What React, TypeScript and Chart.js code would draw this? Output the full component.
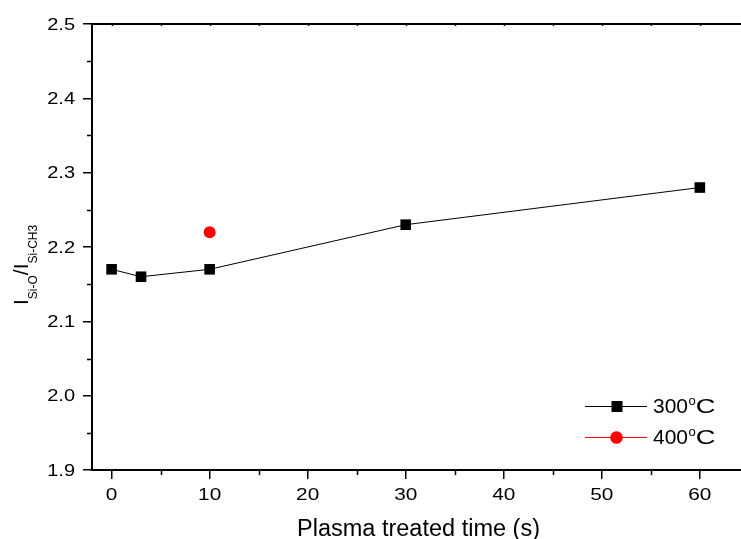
import React, { useEffect, useRef } from "react";
import { Chart, registerables } from "chart.js";

Chart.register(...registerables);

// ---- data ----
const time300 = [0, 3, 10, 30, 60];
const ratio300 = [2.17, 2.16, 2.17, 2.23, 2.28];
const time400 = [10];
const ratio400 = [2.22];
const seriesNames = ["300", "400"];

// ---- ticks ----
const xTicks = [0, 10, 20, 30, 40, 50, 60];
const xMinorTicks = [5, 15, 25, 35, 45, 55];
const yTicks = [1.9, 2.0, 2.1, 2.2, 2.3, 2.4, 2.5];
const yMinorTicks = [1.95, 2.05, 2.15, 2.25, 2.35, 2.45];

const xTitle = "Plasma treated time (s)";

const FONT = '"Liberation Sans", Arial, Helvetica, sans-serif';

function stretchedText(
  ctx: CanvasRenderingContext2D,
  text: string,
  x: number,
  y: number,
  sx: number,
  align: CanvasTextAlign
) {
  ctx.save();
  ctx.translate(x, y);
  ctx.scale(sx, 1);
  ctx.textAlign = align;
  ctx.textBaseline = "alphabetic";
  ctx.fillText(text, 0, 0);
  ctx.restore();
}

const decor = {
  id: "decor",
  afterDraw(chart: any) {
    const ctx = chart.ctx as CanvasRenderingContext2D;
    const xs = chart.scales.x;
    const ys = chart.scales.y;
    const { left, right, top, bottom } = chart.chartArea;
    ctx.save();
    ctx.strokeStyle = "#000";
    ctx.fillStyle = "#000";

    // top axis line
    ctx.lineWidth = 2;
    ctx.beginPath();
    ctx.moveTo(left - 1, top);
    ctx.lineTo(right, top);
    ctx.stroke();

    // minor ticks
    ctx.lineWidth = 1.5;
    ctx.beginPath();
    for (const v of xMinorTicks) {
      const px = Math.round(xs.getPixelForValue(v)) + 0.5;
      ctx.moveTo(px, bottom);
      ctx.lineTo(px, bottom + 5);
    }
    for (const v of yMinorTicks) {
      const py = Math.round(ys.getPixelForValue(v)) + 0.5;
      ctx.moveTo(left, py);
      ctx.lineTo(left - 5, py);
    }
    // tiny inward ticks on top axis
    for (const v of [...xTicks, ...xMinorTicks]) {
      const px = Math.round(xs.getPixelForValue(v)) + 0.5;
      ctx.moveTo(px, top);
      ctx.lineTo(px, top + 2);
    }
    ctx.stroke();

    // tick labels (horizontally stretched like the original export)
    ctx.font = `16px ${FONT}`;
    for (const v of xTicks) {
      stretchedText(ctx, String(v), xs.getPixelForValue(v), bottom + 29.5, 1.3, "center");
    }
    for (const v of yTicks) {
      stretchedText(ctx, v.toFixed(1), left - 17, ys.getPixelForValue(v) + 5.5, 1.25, "right");
    }

    // x title
    ctx.font = `23.5px ${FONT}`;
    ctx.textAlign = "center";
    ctx.textBaseline = "alphabetic";
    ctx.fillText(xTitle, 418.5, 536);

    // y title with subscripts, rotated
    ctx.save();
    ctx.translate(28, 305);
    ctx.rotate(-Math.PI / 2);
    ctx.textAlign = "left";
    const parts: [string, boolean][] = [
      ["I", false],
      ["Si-O", true],
      ["/", false],
      ["I", false],
      ["Si-CH3", true],
    ];
    let cx = 0;
    for (const [t, sub] of parts) {
      ctx.font = sub ? `12px ${FONT}` : `21px ${FONT}`;
      ctx.fillText(t, cx, sub ? 9 : 0);
      cx += ctx.measureText(t).width;
    }
    ctx.restore();

    // legend
    const rows = [
      { name: seriesNames[0], color: "#000", y: 406, shape: "rect" },
      { name: seriesNames[1], color: "#ff0000", y: 437, shape: "circle" },
    ];
    for (const r of rows) {
      ctx.strokeStyle = r.color;
      ctx.fillStyle = r.color;
      ctx.lineWidth = 1;
      ctx.beginPath();
      ctx.moveTo(585, r.y + 0.5);
      ctx.lineTo(647, r.y + 0.5);
      ctx.stroke();
      if (r.shape === "rect") {
        ctx.fillRect(611.5, r.y - 5, 11, 11);
      } else {
        ctx.beginPath();
        ctx.arc(616.5, r.y + 0.5, 6.3, 0, Math.PI * 2);
        ctx.fill();
      }
      ctx.fillStyle = "#000";
      ctx.textAlign = "left";
      ctx.font = `21px ${FONT}`;
      const base = r.y + 7;
      ctx.fillText(r.name, 653, base);
      const w = ctx.measureText(r.name).width;
      ctx.font = `13px ${FONT}`;
      ctx.fillText("o", 653 + w + 0.5, base - 8);
      const ow = ctx.measureText("o").width;
      ctx.font = `21px ${FONT}`;
      stretchedText(ctx, "C", 653 + w + ow + 0.5, base, 1.3, "left");
    }
    ctx.restore();
  },
};

export default function App() {
  const ref = useRef<HTMLCanvasElement>(null);
  useEffect(() => {
    if (!ref.current) return;
    const chart = new Chart(ref.current, {
      type: "scatter",
      data: {
        datasets: [
          {
            label: seriesNames[0] + "°C",
            data: time300.map((t, i) => ({ x: t, y: ratio300[i] })),
            showLine: true,
            borderColor: "#000",
            backgroundColor: "#000",
            borderWidth: 1,
            pointStyle: "rect",
            pointRadius: 7.5,
            pointHoverRadius: 7.5,
            pointBorderWidth: 0,
            pointBackgroundColor: "#000",
          },
          {
            label: seriesNames[1] + "°C",
            data: time400.map((t, i) => ({ x: t, y: ratio400[i] })),
            showLine: false,
            borderColor: "#ff0000",
            backgroundColor: "#ff0000",
            pointStyle: "circle",
            pointRadius: 6,
            pointHoverRadius: 6,
            pointBorderWidth: 0,
            pointBackgroundColor: "#ff0000",
          },
        ],
      },
      options: {
        animation: false,
        responsive: false,
        devicePixelRatio: 1,
        layout: { autoPadding: false, padding: { top: 24, right: 0, left: 0, bottom: 0 } },
        plugins: {
          legend: { display: false },
          tooltip: { enabled: false },
          title: { display: false },
        },
        scales: {
          x: {
            type: "linear",
            min: -2,
            max: 64.2,
            afterBuildTicks: (s: any) => {
              s.ticks = xTicks.map((v) => ({ value: v }));
            },
            afterFit: (s: any) => {
              s.height = 69;
              s.paddingLeft = 0;
              s.paddingRight = 0;
            },
            grid: {
              display: true,
              drawOnChartArea: false,
              drawTicks: true,
              tickLength: 9,
              color: "#000",
              lineWidth: 1.5,
            },
            border: { display: true, color: "#000", width: 2 },
            ticks: { display: false },
          },
          y: {
            type: "linear",
            min: 1.9,
            max: 2.5,
            afterBuildTicks: (s: any) => {
              s.ticks = yTicks.map((v) => ({ value: v }));
            },
            afterFit: (s: any) => {
              s.width = 92;
              s.paddingTop = 0;
              s.paddingBottom = 0;
            },
            grid: {
              display: true,
              drawOnChartArea: false,
              drawTicks: true,
              tickLength: 9,
              color: "#000",
              lineWidth: 1.5,
            },
            border: { display: true, color: "#000", width: 2 },
            ticks: { display: false },
          },
        },
      },
      plugins: [decor],
    });
    return () => chart.destroy();
  }, []);
  return (
    <div style={{ position: "absolute", left: 0, top: 0, width: 741, height: 539, background: "#fff" }}>
      <canvas ref={ref} width={741} height={539} style={{ display: "block" }} />
    </div>
  );
}
